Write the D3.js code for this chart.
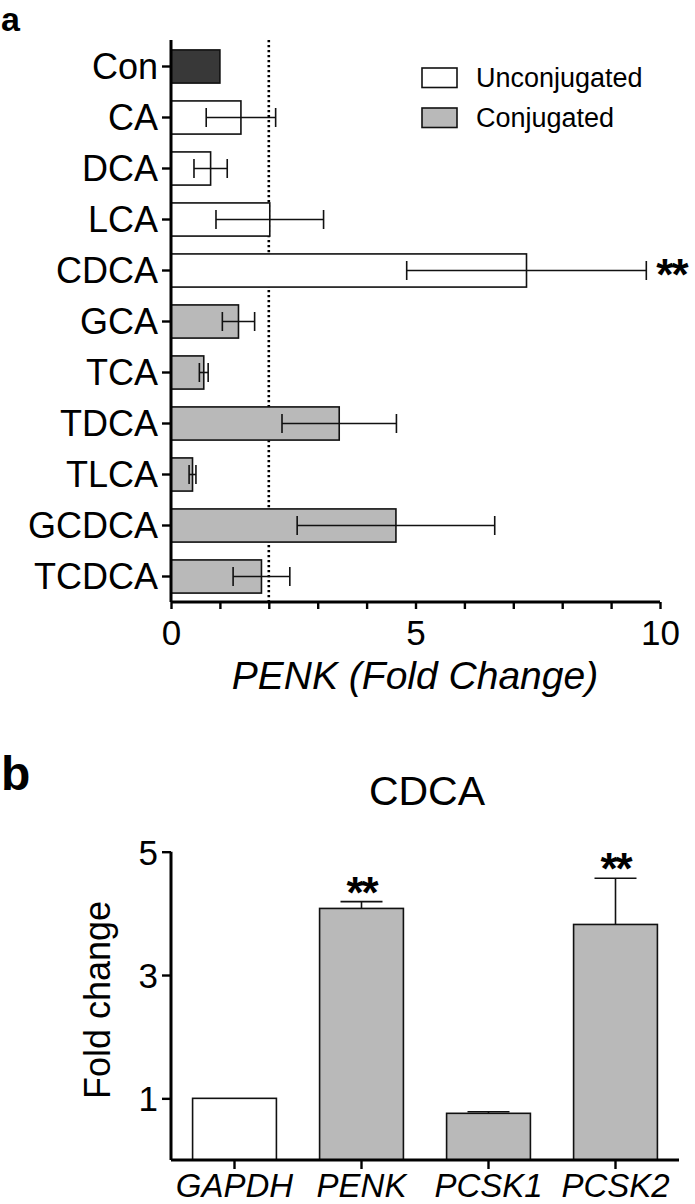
<!DOCTYPE html>
<html><head><meta charset="utf-8">
<script src="https://cdn.jsdelivr.net/npm/d3@7"></script>
<style>body{margin:0;background:#fff}svg{display:block}text{font-family:"Liberation Sans",Arial,sans-serif;fill:#000}</style>
</head><body>
<svg id="c" width="695" height="1204"></svg>
<script>
// Panel a data
const catsA = ["Con","CA","DCA","LCA","CDCA","GCA","TCA","TDCA","TLCA","GCDCA","TCDCA"];
const groupA = ["control","unconj","unconj","unconj","unconj","conj","conj","conj","conj","conj","conj"];
const meanA = [1.0,1.43,0.81,2.02,7.27,1.38,0.67,3.44,0.44,4.60,1.85];
const sdA   = [0,0.71,0.34,1.10,2.45,0.33,0.09,1.17,0.07,2.02,0.58];
const sigA  = ["","","","","**","","","","","",""];
const ticksA = [0,1,2,3,4,5,6,7,8,9,10];
const refLineA = 2;
// Panel b data
const genesB = ["GAPDH","PENK","PCSK1","PCSK2"];
const meanB = [1.0,4.08,0.757,3.82];
const errB  = [0,0.11,0.025,0.75];
const sigB  = ["","**","","**"];
const groupB = ["unconj","conj","conj","conj"];
const ticksB = [1,3,5];

const fill = {control:"#383838", unconj:"#ffffff", conj:"#b9b9b9"};
const svg = d3.select("#c");

// ---------- Panel a ----------
const xA = d3.scaleLinear().domain([0,10]).range([171,660]);
const yA = d3.scaleBand().domain(catsA).range([41,602]).paddingInner(0.35).paddingOuter(0.175);
const gA = svg.append("g");

gA.append("line").attr("x1",xA(refLineA)).attr("x2",xA(refLineA)).attr("y1",40).attr("y2",602)
  .attr("stroke","#000").attr("stroke-width",2.6).attr("stroke-dasharray","2.2,2.8");

gA.selectAll("rect.bar").data(catsA).join("rect").attr("class","bar")
  .attr("x",xA(0)).attr("y",d=>yA(d)).attr("width",(d,i)=>xA(meanA[i])-xA(0)).attr("height",yA.bandwidth())
  .attr("fill",(d,i)=>fill[groupA[i]]).attr("stroke","#111").attr("stroke-width",1.6);

const errG = gA.selectAll("g.err").data(catsA.map((c,i)=>({c,i})).filter(d=>sdA[d.i]>0)).join("g");
errG.append("line").attr("x1",d=>xA(meanA[d.i]-sdA[d.i])).attr("x2",d=>xA(meanA[d.i]+sdA[d.i]))
  .attr("y1",d=>yA(d.c)+yA.bandwidth()/2).attr("y2",d=>yA(d.c)+yA.bandwidth()/2).attr("stroke","#111").attr("stroke-width",1.6);
[-1,1].forEach(s=>{
  errG.append("line").attr("x1",d=>xA(meanA[d.i]+s*sdA[d.i])).attr("x2",d=>xA(meanA[d.i]+s*sdA[d.i]))
   .attr("y1",d=>yA(d.c)+yA.bandwidth()/2-9.5).attr("y2",d=>yA(d.c)+yA.bandwidth()/2+9.5).attr("stroke","#111").attr("stroke-width",1.6);
});

gA.selectAll("text.sig").data(catsA.map((c,i)=>({c,i})).filter(d=>sigA[d.i])).join("text").attr("class","sig")
  .attr("x",d=>xA(meanA[d.i]+sdA[d.i])+10).attr("y",d=>yA(d.c)+yA.bandwidth()/2+19)
  .attr("font-size",44).attr("font-weight","bold").attr("letter-spacing",-2).text(d=>sigA[d.i]);

const yAxA = gA.append("g").attr("transform","translate(171,0)")
  .call(d3.axisLeft(yA).tickSize(9).tickPadding(4).tickSizeOuter(0));
yAxA.select(".domain").attr("d","M0,40V602").attr("stroke-width",3);
yAxA.selectAll(".tick line").attr("stroke-width",2.4);
yAxA.selectAll(".tick text").attr("font-size",36).attr("dy","0.36em").attr("font-family","Liberation Sans, Arial, sans-serif").attr("fill","#000");

const xAxA = gA.append("g").attr("transform","translate(0,602)")
  .call(d3.axisBottom(xA).tickValues(ticksA).tickFormat(d=>d%5===0?d:"").tickSize(7).tickSizeOuter(0));
xAxA.select(".domain").attr("d","M171,0H660").attr("stroke-width",3);
xAxA.selectAll(".tick line").attr("stroke-width",2.4);
xAxA.selectAll(".tick text").attr("font-size",35).attr("y",43).attr("dy",0).attr("font-family","Liberation Sans, Arial, sans-serif").attr("fill","#000");

gA.append("text").attr("x",415).attr("y",689).attr("text-anchor","middle").attr("font-size",39)
  .attr("font-style","italic").text("PENK (Fold Change)");

const legA = [{k:"unconj",t:"Unconjugated",y:68},{k:"conj",t:"Conjugated",y:108}];
const lg = gA.selectAll("g.leg").data(legA).join("g");
lg.append("rect").attr("x",422).attr("y",d=>d.y).attr("width",35).attr("height",19.5)
  .attr("fill",d=>fill[d.k]).attr("stroke","#111").attr("stroke-width",1.6);
lg.append("text").attr("x",476).attr("y",d=>d.y+19).attr("font-size",27).text(d=>d.t);

svg.append("text").attr("x",1).attr("y",31).attr("font-size",34).attr("font-weight","bold").text("a");

// ---------- Panel b ----------
const xB = d3.scaleBand().domain(genesB).range([171,679]).paddingInner(0.34).paddingOuter(0.17);
const yB = d3.scaleLinear().domain([0,5]).range([1160,851.7]);
const gB = svg.append("g");

gB.selectAll("rect.bar").data(genesB).join("rect").attr("class","bar")
  .attr("x",d=>xB(d)).attr("width",xB.bandwidth()).attr("y",(d,i)=>yB(meanB[i])).attr("height",(d,i)=>yB(0)-yB(meanB[i]))
  .attr("fill",(d,i)=>fill[groupB[i]]).attr("stroke","#111").attr("stroke-width",1.6);

const eB = gB.selectAll("g.err").data(genesB.map((c,i)=>({c,i})).filter(d=>errB[d.i]>0)).join("g");
eB.append("line").attr("x1",d=>xB(d.c)+xB.bandwidth()/2).attr("x2",d=>xB(d.c)+xB.bandwidth()/2)
  .attr("y1",d=>yB(meanB[d.i])).attr("y2",d=>yB(meanB[d.i]+errB[d.i])).attr("stroke","#111").attr("stroke-width",1.6);
eB.append("line").attr("x1",d=>xB(d.c)+xB.bandwidth()/2-21).attr("x2",d=>xB(d.c)+xB.bandwidth()/2+21)
  .attr("y1",d=>yB(meanB[d.i]+errB[d.i])).attr("y2",d=>yB(meanB[d.i]+errB[d.i])).attr("stroke","#111").attr("stroke-width",1.6);

gB.selectAll("text.sig").data(genesB.map((c,i)=>({c,i})).filter(d=>sigB[d.i])).join("text").attr("class","sig")
  .attr("x",d=>xB(d.c)+xB.bandwidth()/2).attr("y",d=>yB(meanB[d.i]+errB[d.i])+6).attr("text-anchor","middle")
  .attr("font-size",44).attr("font-weight","bold").attr("letter-spacing",-2).text(d=>sigB[d.i]);

const yAxB = gB.append("g").attr("transform","translate(171,0)")
  .call(d3.axisLeft(yB).tickValues(ticksB).tickFormat(d3.format("d")).tickSize(9).tickPadding(4).tickSizeOuter(0));
yAxB.select(".domain").attr("d","M0,851.7V1160").attr("stroke-width",3);
yAxB.selectAll(".tick line").attr("stroke-width",2.4);
yAxB.selectAll(".tick text").attr("font-size",35).attr("dy","0.36em").attr("font-family","Liberation Sans, Arial, sans-serif").attr("fill","#000");

const xAxB = gB.append("g").attr("transform","translate(0,1160)")
  .call(d3.axisBottom(xB).tickSize(9).tickSizeOuter(0));
xAxB.select(".domain").attr("d","M171,0H679").attr("stroke-width",3);
xAxB.selectAll(".tick line").attr("stroke-width",2.4);
xAxB.selectAll(".tick text").attr("font-size",33).attr("font-style","italic").attr("y",37).attr("dy",0)
  .attr("font-family","Liberation Sans, Arial, sans-serif").attr("fill","#000");

gB.append("text").attr("transform","translate(110,1000) rotate(-90)").attr("text-anchor","middle")
  .attr("font-size",36).text("Fold change");
gB.append("text").attr("x",427).attr("y",805).attr("text-anchor","middle").attr("font-size",41).text("CDCA");

svg.append("text").attr("x",1).attr("y",790).attr("font-size",48).attr("font-weight","bold").text("b");
</script>
</body></html>
